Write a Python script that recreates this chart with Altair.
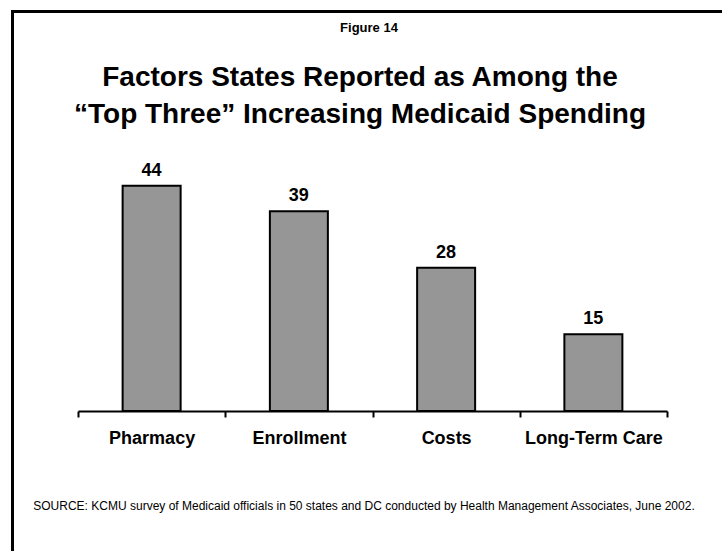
import altair as alt
import pandas as pd

# Chart values
categories = ["Pharmacy", "Enrollment", "Costs", "Long-Term Care"]
states = [44, 39, 28, 15]

figure_label = "Figure 14"
title_lines = [
    "Factors States Reported as Among the",
    "\u201cTop Three\u201d Increasing Medicaid Spending",
]
source_note = ("SOURCE: KCMU survey of Medicaid officials in 50 states and DC "
               "conducted by Health Management Associates, June 2002.")

df = pd.DataFrame({"factor": categories, "states": states})

SANS = "Liberation Sans, Arial, Helvetica, sans-serif"

W, H = 589, 256

x_enc = alt.X(
    "factor:N",
    sort=categories,
    scale=alt.Scale(paddingInner=0, paddingOuter=0),
    axis=alt.Axis(
        title=None,
        tickBand="extent",
        labelAngle=0,
        labelFont=SANS,
        labelFontSize=18,
        labelFontWeight="bold",
        labelColor="black",
        labelPadding=12,
        domainColor="black",
        domainWidth=2,
        tickColor="black",
        tickWidth=2,
        tickSize=6,
        grid=False,
    ),
)
y_enc = alt.Y("states:Q", scale=alt.Scale(domain=[0, 50]), axis=None)

bars = alt.Chart(df).mark_bar(
    size=58, color="#969696", stroke="black", strokeWidth=2
).encode(x=x_enc, y=y_enc)

values = alt.Chart(df).mark_text(
    baseline="alphabetic", dy=-10, font=SANS, fontSize=18,
    fontWeight="bold", color="black"
).encode(x=alt.X("factor:N", sort=categories), y="states:Q", text="states:Q")

# Slide frame (top and left edges visible)
frame = alt.Chart(pd.DataFrame({"k": [0]})).mark_rect(
    fill=None, stroke="black", strokeWidth=3
).encode(x=alt.value(-65.5), y=alt.value(-143.5), x2=alt.value(800), y2=alt.value(600))

fig_text = alt.Chart(pd.DataFrame({"t": [figure_label]})).mark_text(
    font=SANS, fontSize=13, fontWeight="bold", align="center",
    baseline="alphabetic", color="black"
).encode(x=alt.value(291), y=alt.value(-123), text="t:N")

title_text = alt.Chart(pd.DataFrame({"t": ["\n".join(title_lines)]})).mark_text(
    font=SANS, fontSize=28, fontWeight="bold", align="center",
    baseline="alphabetic", lineBreak="\n", lineHeight=37, color="black"
).encode(x=alt.value(282), y=alt.value(-69), text="t:N")

source_text = alt.Chart(pd.DataFrame({"t": [source_note]})).mark_text(
    font=SANS, fontSize=12, align="center", baseline="alphabetic", color="black"
).encode(x=alt.value(286), y=alt.value(355), text="t:N")

chart = alt.layer(frame, bars, values, fig_text, title_text, source_text).properties(
    width=W,
    height=H,
    autosize=alt.AutoSizeParams(type="none"),
    padding={"left": 78, "top": 155, "right": 55, "bottom": 140},
    background="white",
).configure_view(stroke=None)

chart.save("out.html", embed_options={"renderer": "svg", "actions": False})
